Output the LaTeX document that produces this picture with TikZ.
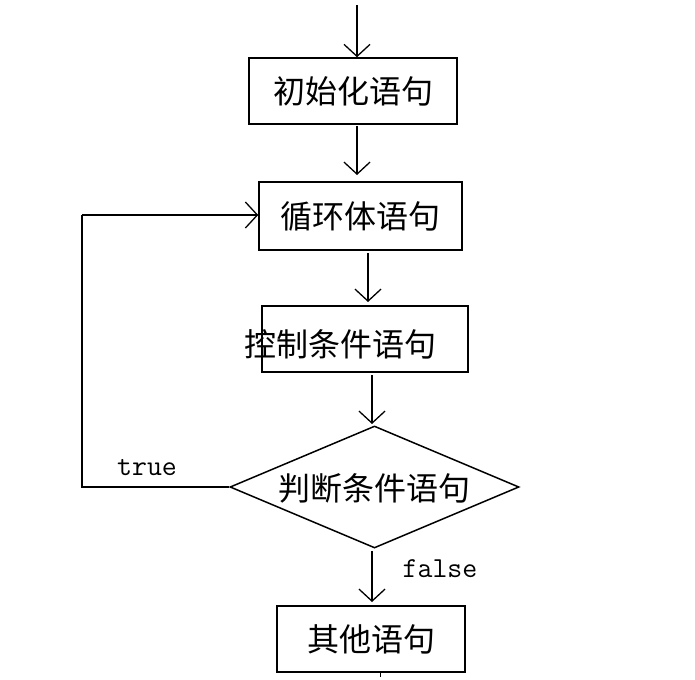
\documentclass[tikz,border=0pt]{standalone}
\usepackage{fontspec}
\newfontfamily\cjk{Noto Sans CJK SC}
\usetikzlibrary{shapes.geometric,arrows.meta}
\begin{document}
\begin{tikzpicture}[x=1pt,y=-1pt,
 box/.style={draw,line width=1.5pt,inner sep=0pt,font=\cjk\fontsize{32}{34}\selectfont},
 arr/.style={line width=1.3pt,-{Straight Barb[length=12pt,width=26pt]}},
 lab/.style={font=\ttfamily\fontsize{29}{30}\selectfont}]
\useasboundingbox (0,0) rectangle (695,679);
\coordinate (s) at (357,5);
\node[box,minimum width=208pt,minimum height=66pt] (b1) at (353,91) {初始化语句};
\node[box,minimum width=203pt,minimum height=68pt] (b2) at (360.5,216) {循环体语句};
\node[box,minimum width=206pt,minimum height=66pt] (b3) at (365,339) {};
\node[font=\cjk\fontsize{32}{34}\selectfont] (t3) at (340,344) {控制条件语句};
\node[draw,line width=1.5pt,diamond,aspect=2.37,minimum width=289pt,minimum height=122pt,inner sep=0pt] (d) at (374.5,487) {};
\node[font=\cjk\fontsize{32}{34}\selectfont] (td) at (374,488) {判断条件语句};
\node[box,minimum width=188pt,minimum height=66pt] (b4) at (371,639) {其他语句};
\coordinate (c1) at (82,487);
\coordinate (c2) at (82,215);
\coordinate (e) at (380,677);
\draw[arr] (s) -- (s|-b1.north);
\draw[arr] (357,126) -- (357,175);
\draw[arr] (368,253) -- (368,302);
\draw[arr] (372,375) -- (372,424);
\draw[arr] (372,551) -- (372,602);
\draw[line width=1.3pt] (d.west) -- (c1) -- (c2);
\draw[arr] (c2) -- (b2.west|-c2);
\node[lab] (lt) at (147,468) {true};
\node[lab] (lf) at (440,569) {false};
\draw[line width=1pt] (b4.south-|e) -- (e);
\end{tikzpicture}
\end{document}
